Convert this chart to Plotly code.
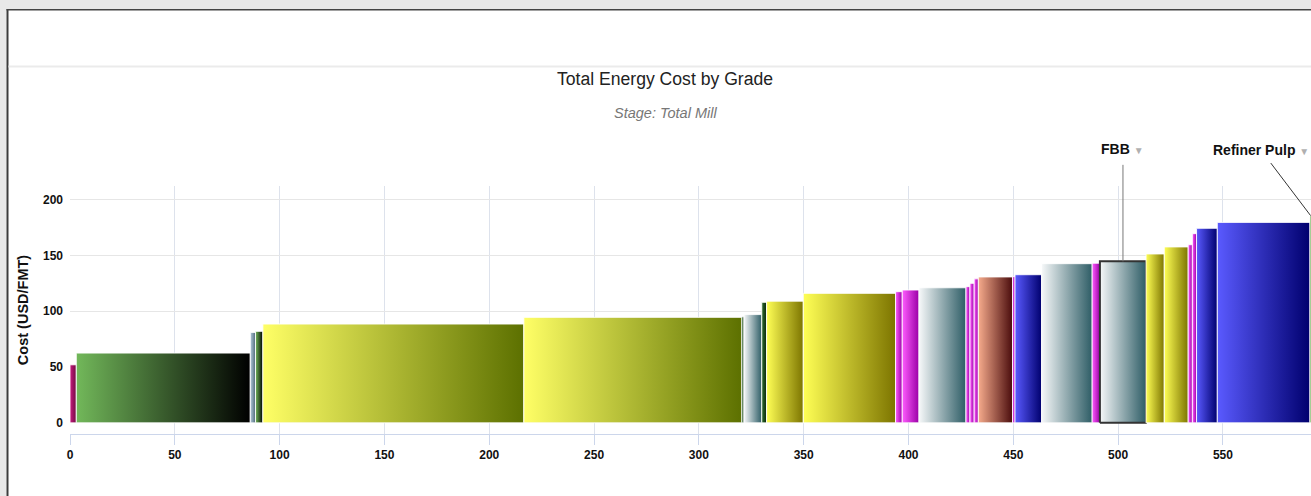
import plotly.graph_objects as go

# ---------------- data ----------------
grades = [
    "Grade 1", "Grade 2", "Grade 3", "Grade 4", "Grade 5", "Grade 6", "Grade 7",
    "Grade 8", "Grade 9", "Grade 10", "Grade 11", "Grade 12", "Grade 13", "Grade 14",
    "Grade 15", "Grade 16", "Grade 17", "Grade 18", "Grade 19", "Grade 20", "Grade 21",
    "Grade 22", "FBB", "Grade 24", "Grade 25", "Grade 26", "Grade 27", "Grade 28",
    "Grade 29", "Refiner Pulp",
]
production = [3, 83, 2.5, 3.5, 124.5, 104, 1, 8.5, 2.3, 17.5, 44, 3.2, 8, 22.4,
              1.9, 2, 2, 16.3, 1.2, 12.7, 24.1, 3.7, 22, 8.7, 11.4, 2, 2, 9.9,
              44.2, 8.5]
cost = [52, 62.5, 81, 82, 88.5, 94.5, 95, 97, 108, 109, 116, 117.5, 119, 121,
        122, 125, 129, 130.7, 131, 132.7, 142.6, 143, 144.7, 151.3, 157.6, 159.6,
        169.5, 174.3, 179.6, 185.7]
group = ["crimson", "green", "bluegray", "green", "olive", "olive", "darkgreen",
         "teal", "darkgreen", "yellow", "yellow", "magenta", "magenta", "teal",
         "magenta", "magenta", "magenta", "brown", "magenta", "blue", "teal",
         "magenta", "teal", "yellow", "yellow", "magenta", "magenta", "blue",
         "blue", "green"]
x_ticks = [0, 50, 100, 150, 200, 250, 300, 350, 400, 450, 500, 550]
y_ticks = [0, 50, 100, 150, 200]

palette = {
    "crimson": ("#c81c80", "#6e0a40"),
    "green": ("#72b85a", "#000000"),
    "bluegray": ("#b4cadb", "#4d6878"),
    "olive": ("#ffff66", "#5c7000"),
    "darkgreen": ("#2f6e2f", "#0a250a"),
    "teal": ("#f6f8f9", "#2e5d66"),
    "yellow": ("#ffff55", "#7d7500"),
    "magenta": ("#ff5cff", "#9a00a6"),
    "brown": ("#f6ab8c", "#4a0c0c"),
    "blue": ("#5a5aff", "#00006e"),
}

# ---------------- layout geometry ----------------
W, H = 1311, 496
L, R, T, B = 70, 0, 186, 62
PW, PH = W - L - R, H - T - B


def px(xp):
    return (xp - L) / PW


def py(yp):
    return (H - B - yp) / PH


fig = go.Figure()

start = 0.0
centers = {}
for name, w, c, g in zip(grades, production, cost, group):
    x0, x1 = start, start + w
    c0, c1 = palette[g]
    is_fbb = name == "FBB"
    fig.add_trace(go.Scatter(
        x=[x0, x0, x1, x1, x0], y=[0, c, c, 0, 0],
        mode="lines", fill="toself",
        fillgradient=dict(type="horizontal", colorscale=[[0, c0], [1, c1]]),
        line=dict(color="#333333" if is_fbb else "rgba(255,255,255,0.85)",
                  width=2 if is_fbb else 1),
        name=name, hoveron="fills", showlegend=False,
    ))
    centers[name] = ((x0 + x1) / 2, c, x0)
    start = x1

fig.update_layout(
    width=W, height=H, autosize=False,
    margin=dict(l=L, r=R, t=T, b=B, pad=0),
    paper_bgcolor="white", plot_bgcolor="white",
    font=dict(family="Liberation Sans, Arial, sans-serif", color="#222"),
    title=dict(text="Total Energy Cost by Grade", x=665 / W, xref="container",
               y=1 - 79 / H, yref="container", xanchor="center", yanchor="middle",
               font=dict(size=17.6, color="#222")),
    xaxis=dict(range=[0, 592], tickvals=x_ticks, showgrid=True, gridcolor="#dde2ec",
               gridwidth=1, zeroline=False, showline=True, linecolor="#ccd6eb",
               linewidth=1, ticks="outside", ticklen=10, tickcolor="#ccd6eb",
               tickfont=dict(size=12, color="#111", weight="bold")),
    yaxis=dict(range=[-10, 212.2], tickvals=y_ticks, showgrid=True, gridcolor="#e6e6e6",
               gridwidth=1, zeroline=False, showline=False,
               ticklabelstandoff=6,
               tickfont=dict(size=12, color="#111", weight="bold"),
               title=dict(text="Cost (USD/FMT)", standoff=10,
                          font=dict(size=14.5, color="#111", weight="bold"))),
    hovermode="closest",
)

# subtitle
fig.add_annotation(text="<i>Stage: Total Mill</i>", xref="paper", yref="paper",
                   x=px(665.5), y=py(113), showarrow=False,
                   font=dict(size=14.5, color="#777"), xanchor="center", yanchor="middle")

# grade labels with connector lines
fx, fy, _ = centers["FBB"]
fig.add_annotation(x=fx, y=fy, xref="x", yref="y",
                   text="<b>FBB</b> <span style='color:#b0b0b0;font-size:10px'>▼</span>",
                   showarrow=True, arrowhead=0, arrowwidth=1, arrowcolor="#777",
                   ax=0, ay=-112, borderpad=7, font=dict(size=14, color="#111"))
rx, ry, rx0 = centers["Refiner Pulp"]
fig.add_annotation(x=rx0 + 0.3, y=ry, xref="x", yref="y",
                   text="<b>Refiner Pulp</b> <span style='color:#b0b0b0;font-size:10px'>▼</span>",
                   showarrow=True, arrowhead=0, arrowwidth=1, arrowcolor="#333",
                   ax=-50, ay=-66, borderpad=5, font=dict(size=14, color="#111"))

# frame / header decoration
shapes = [
    dict(type="rect", xref="paper", yref="paper", x0=px(0), x1=px(W), y0=py(9), y1=py(0),
         fillcolor="#e8e8e8", line=dict(width=0)),
    dict(type="rect", xref="paper", yref="paper", x0=px(0), x1=px(6.5), y0=py(H), y1=py(0),
         fillcolor="#e8e8e8", line=dict(width=0)),
    dict(type="line", xref="paper", yref="paper", x0=px(7.5), x1=px(7.5), y0=py(H), y1=py(9),
         line=dict(color="#3c3c3c", width=2)),
    dict(type="line", xref="paper", yref="paper", x0=px(6.5), x1=px(W), y0=py(9.8), y1=py(9.8),
         line=dict(color="#444", width=1.5)),
    dict(type="line", xref="paper", yref="paper", x0=px(8.5), x1=px(W), y0=py(66.5), y1=py(66.5),
         line=dict(color="#ebebeb", width=2)),
]
for s in shapes:
    fig.add_shape(**s)

fig.write_html("out.html", config={"displayModeBar": False},
               post_script="document.body.style.margin='0';document.body.style.overflow='hidden';")
